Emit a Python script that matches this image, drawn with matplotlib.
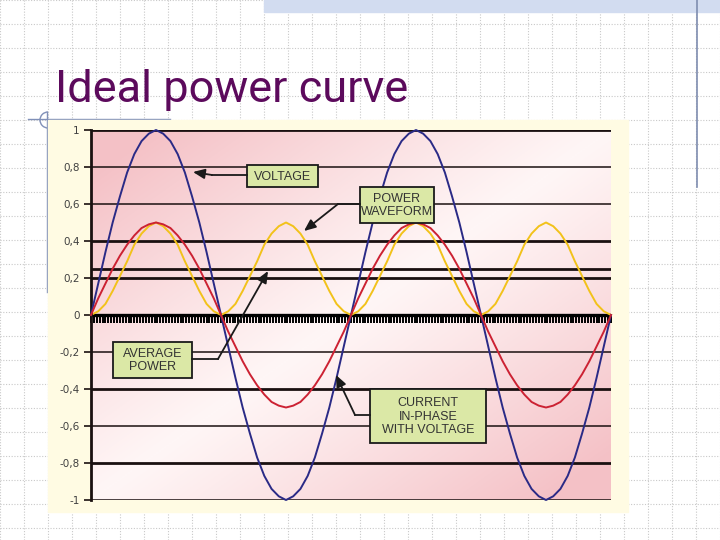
import numpy as np
import matplotlib
matplotlib.use("Agg")
import matplotlib.pyplot as plt
from matplotlib.patches import Rectangle, Arc
from matplotlib.ticker import MultipleLocator, FuncFormatter

# phase angle in degrees, one sample every 10 degrees over two cycles
angle = list(range(0, 721, 10))

voltage = [
    0.00, 0.17, 0.34, 0.50, 0.64, 0.77, 0.87, 0.94, 0.98, 1.00,
    0.98, 0.94, 0.87, 0.77, 0.64, 0.50, 0.34, 0.17, 0.00,
    -0.17, -0.34, -0.50, -0.64, -0.77, -0.87, -0.94, -0.98, -1.00,
    -0.98, -0.94, -0.87, -0.77, -0.64, -0.50, -0.34, -0.17, 0.00,
    0.17, 0.34, 0.50, 0.64, 0.77, 0.87, 0.94, 0.98, 1.00,
    0.98, 0.94, 0.87, 0.77, 0.64, 0.50, 0.34, 0.17, 0.00,
    -0.17, -0.34, -0.50, -0.64, -0.77, -0.87, -0.94, -0.98, -1.00,
    -0.98, -0.94, -0.87, -0.77, -0.64, -0.50, -0.34, -0.17, 0.00,
]
current = [
    0.00, 0.09, 0.17, 0.25, 0.32, 0.38, 0.43, 0.47, 0.49, 0.50,
    0.49, 0.47, 0.43, 0.38, 0.32, 0.25, 0.17, 0.09, 0.00,
    -0.09, -0.17, -0.25, -0.32, -0.38, -0.43, -0.47, -0.49, -0.50,
    -0.49, -0.47, -0.43, -0.38, -0.32, -0.25, -0.17, -0.09, 0.00,
    0.09, 0.17, 0.25, 0.32, 0.38, 0.43, 0.47, 0.49, 0.50,
    0.49, 0.47, 0.43, 0.38, 0.32, 0.25, 0.17, 0.09, 0.00,
    -0.09, -0.17, -0.25, -0.32, -0.38, -0.43, -0.47, -0.49, -0.50,
    -0.49, -0.47, -0.43, -0.38, -0.32, -0.25, -0.17, -0.09, 0.00,
]
power = [
    0.00, 0.02, 0.06, 0.13, 0.21, 0.29, 0.38, 0.44, 0.48, 0.50,
    0.48, 0.44, 0.38, 0.29, 0.21, 0.13, 0.06, 0.02, 0.00,
    0.02, 0.06, 0.13, 0.21, 0.29, 0.38, 0.44, 0.48, 0.50,
    0.48, 0.44, 0.38, 0.29, 0.21, 0.13, 0.06, 0.02, 0.00,
    0.02, 0.06, 0.13, 0.21, 0.29, 0.38, 0.44, 0.48, 0.50,
    0.48, 0.44, 0.38, 0.29, 0.21, 0.13, 0.06, 0.02, 0.00,
    0.02, 0.06, 0.13, 0.21, 0.29, 0.38, 0.44, 0.48, 0.50,
    0.48, 0.44, 0.38, 0.29, 0.21, 0.13, 0.06, 0.02, 0.00,
]
average_power = 0.25

y_ticks = [1, 0.8, 0.6, 0.4, 0.2, 0, -0.2, -0.4, -0.6, -0.8, -1]
thick_lines = [1, 0.4, 0.2, -0.4, -0.8]

fig = plt.figure(figsize=(7.2, 5.4), dpi=100)

# slide background, pixel coordinates
bg = fig.add_axes([0, 0, 1, 1], zorder=0)
bg.set_xlim(0, 720)
bg.set_ylim(540, 0)
bg.axis("off")
for g in range(0, 721, 24):
    bg.axvline(g, color="#c9c9c9", lw=0.8, ls=(0, (1, 1.5)))
for g in range(0, 541, 24):
    bg.axhline(g, color="#c9c9c9", lw=0.8, ls=(0, (1, 1.5)))
bg.add_patch(Rectangle((264, 0), 456, 12, color="#d2dcf0", zorder=2))
bg.plot([697, 697], [0, 187], color="#7f8db0", lw=1.2, zorder=3)
bg.plot([28, 170], [119, 119], color="#8090b8", lw=1.0, zorder=3)
bg.plot([47, 47], [112, 292], color="#8090b8", lw=1.0, zorder=3)
bg.add_patch(Arc((48, 120), 16, 16, theta1=90, theta2=270, color="#8090b8", lw=1.0, zorder=3))
bg.add_patch(Rectangle((48, 120), 580, 392, color="#fffbe3", zorder=4))
bg.text(55, 102, "Ideal power curve", fontsize=32.5, color="#5c0a5c",
        family="Roboto", va="baseline", ha="left", zorder=5)

# chart
ax = fig.add_axes([91 / 720, 40 / 540, 520 / 720, 370 / 540], zorder=1)
ax.set_xlim(0, 720)
ax.set_ylim(-1, 1)
ax.patch.set_alpha(0)

u = np.linspace(0, 1, 200)
w = np.linspace(0, 1, 200)
U, W = np.meshgrid(u, w)
t = np.clip(np.abs(U + W - 1) * 1.15, 0, 1) ** 1.1
pink = np.array([0.96, 0.76, 0.78])
white = np.array([1.0, 0.965, 0.965])
img = white + (pink - white) * t[..., None]
ax.imshow(img, extent=(0, 720, -1, 1), aspect="auto", origin="upper", zorder=0)

for yv in y_ticks:
    if yv == 0:
        continue
    ax.axhline(yv, color="#1a1010", lw=2.0 if yv in thick_lines else 1.1, zorder=1)
ax.axhline(average_power, color="#1a1010", lw=2.0, zorder=1)
ax.axhline(0, color="black", lw=2.4, zorder=1)

ax.plot(angle, voltage, color="#2a2a86", lw=1.4, zorder=3, clip_on=False)
ax.plot(angle, current, color="#cc2233", lw=1.4, zorder=3, clip_on=False)
ax.plot(angle, power, color="#f2c21a", lw=1.4, zorder=2, clip_on=False)

for s in ["top", "right"]:
    ax.spines[s].set_visible(False)
ax.spines["left"].set_linewidth(2.0)
ax.spines["left"].set_color("#1a1010")
ax.spines["bottom"].set_position(("data", 0))
ax.spines["bottom"].set_visible(False)
ax.xaxis.set_major_locator(MultipleLocator(4))
ax.tick_params(axis="x", direction="out", length=5.5, width=1.4, color="black",
               labelbottom=False)
ax.set_yticks(y_ticks)
ax.yaxis.set_major_formatter(FuncFormatter(lambda v, p: f"{v:g}".replace(".", ",")))
ax.tick_params(axis="y", direction="out", length=5, width=1.2, color="#1a1010",
               labelsize=7.5, labelcolor="#404040", pad=3)

# callouts, pixel coordinates
ov = fig.add_axes([0, 0, 1, 1], zorder=2)
ov.set_xlim(0, 720)
ov.set_ylim(540, 0)
ov.axis("off")

callouts = [
    ("VOLTAGE", (247, 165, 71, 22), [(247, 175), (212, 175)], (193, 172)),
    ("POWER\nWAVEFORM", (360, 187, 74, 36), [(360, 204), (338, 204)], (304, 231)),
    ("AVERAGE\nPOWER", (113, 342, 79, 36), [(192, 359), (218, 359)], (268, 271)),
    ("CURRENT\nIN-PHASE\nWITH VOLTAGE", (370, 389, 116, 54), [(370, 415), (355, 415)], (336, 375)),
]
for label, (bx, by, bw, bh), seg, tip in callouts:
    ov.add_patch(Rectangle((bx, by), bw, bh, facecolor="#dbe8a6", edgecolor="#1a1a1a", lw=1.3))
    ov.text(bx + bw / 2, by + bh / 2 + 0.5, label, ha="center", va="center", fontsize=9,
            color="#333333", family="Liberation Sans", linespacing=1.12)
    ov.plot([seg[0][0], seg[1][0]], [seg[0][1], seg[1][1]], color="#1a1a1a", lw=1.3)
    ov.annotate("", xy=tip, xytext=seg[1],
                arrowprops=dict(arrowstyle="-|>,head_length=0.7,head_width=0.3",
                                color="#1a1a1a", lw=1.3, shrinkA=0, shrinkB=0))

fig.savefig("out.png", dpi=100)
